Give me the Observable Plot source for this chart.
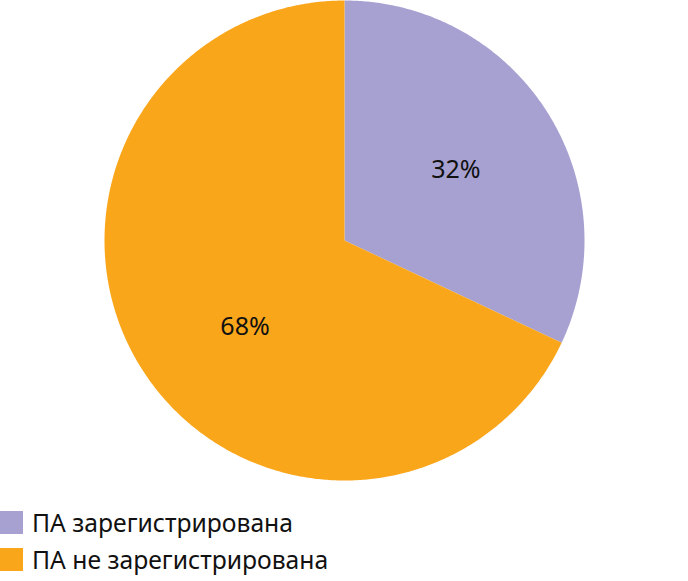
<!DOCTYPE html>
<html>
<head>
<meta charset="utf-8">
<script src="https://cdn.jsdelivr.net/npm/d3@7"></script>
<script src="https://cdn.jsdelivr.net/npm/@observablehq/plot@0.6"></script>
<style>
  body { margin: 0; background: #fff; font-family: "Noto Sans", sans-serif; }
  #legend { margin-top: 14px; }
  .item { display: flex; align-items: center; height: 37px; font-size: 24.7px; color: #111; }
  .sw { width: 23px; height: 23px; margin-right: 9px; }
</style>
</head>
<body>
<div id="chart"></div>
<div id="legend"></div>
<script>
const categories = ["ПА зарегистрирована", "ПА не зарегистрирована"];
const values = [32, 68];
const labels = ["32%", "68%"];
const colors = ["#A7A1D2", "#F9A61B"];

const total = d3.sum(values);
const pts = [];
const labelPts = [];
let start = 0;
values.forEach((v, i) => {
  const a0 = start / total * 2 * Math.PI;
  const a1 = (start + v) / total * 2 * Math.PI;
  pts.push({cat: categories[i], x: 0, y: 0});
  const n = Math.max(2, Math.ceil((a1 - a0) / (Math.PI / 360)));
  for (let k = 0; k <= n; k++) {
    const a = a0 + (a1 - a0) * k / n;
    pts.push({cat: categories[i], x: Math.sin(a), y: Math.cos(a)});
  }
  const am = (a0 + a1) / 2;
  labelPts.push({cat: categories[i], label: labels[i], x: 0.55 * Math.sin(am), y: 0.55 * Math.cos(am)});
  start += v;
});

const chart = Plot.plot({
  width: 688,
  height: 490,
  marginLeft: 104,
  marginRight: 104,
  marginTop: 0,
  marginBottom: 10,
  x: {domain: [-1, 1], axis: null},
  y: {domain: [-1, 1], axis: null},
  color: {domain: categories, range: colors},
  style: {fontFamily: "Noto Sans, sans-serif", background: "#fff"},
  marks: [
    Plot.line(pts, {x: "x", y: "y", z: "cat", fill: "cat", stroke: "none", curve: "linear"}),
    Plot.text(labelPts.slice(0, 1), {x: "x", y: "y", text: "label", fontSize: 25, fill: "#111"}),
    Plot.text(labelPts.slice(1), {x: "x", y: "y", text: "label", fontSize: 25, fill: "#111", dx: 12, dy: 16})
  ]
});
document.getElementById("chart").appendChild(chart);

const leg = document.getElementById("legend");
categories.forEach((c, i) => {
  const it = document.createElement("div");
  it.className = "item";
  const sw = document.createElement("div");
  sw.className = "sw";
  sw.style.background = colors[i];
  const t = document.createElement("span");
  t.textContent = c;
  it.appendChild(sw);
  it.appendChild(t);
  leg.appendChild(it);
});
</script>
</body>
</html>
